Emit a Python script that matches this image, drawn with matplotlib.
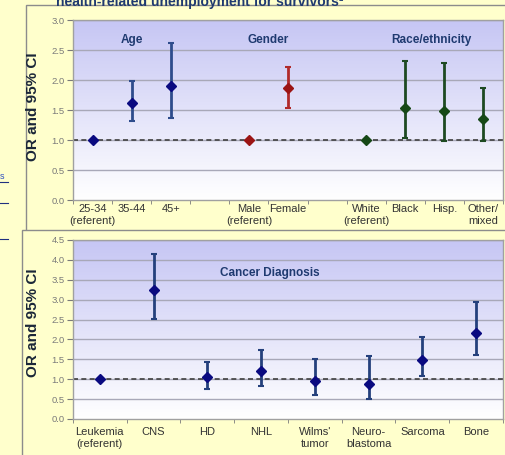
import numpy as np
import matplotlib.pyplot as plt
from matplotlib.patches import Rectangle
from matplotlib.lines import Line2D
from matplotlib.colors import LinearSegmentedColormap

W, H = 506, 455

# top chart: demographic groups (a gap slot between groups)
age_labels = ["25-34\n(referent)", "35-44", "45+"]
age_or = [1.0, 1.62, 1.90]
age_lo = [1.0, 1.32, 1.37]
age_hi = [1.0, 1.98, 2.62]

gender_labels = ["Male\n(referent)", "Female"]
gender_or = [1.0, 1.86]
gender_lo = [1.0, 1.54]
gender_hi = [1.0, 2.22]

race_labels = ["White\n(referent)", "Black", "Hisp.", "Other/\nmixed"]
race_or = [1.0, 1.54, 1.49, 1.35]
race_lo = [1.0, 1.04, 0.99, 0.99]
race_hi = [1.0, 2.32, 2.29, 1.87]

# bottom chart: cancer diagnosis
dx_labels = ["Leukemia\n(referent)", "CNS", "HD", "NHL", "Wilms'\ntumor",
             "Neuro-\nblastoma", "Sarcoma", "Bone"]
dx_or = [1.0, 3.24, 1.06, 1.21, 0.96, 0.89, 1.48, 2.16]
dx_lo = [1.0, 2.52, 0.75, 0.82, 0.61, 0.50, 1.08, 1.60]
dx_hi = [1.0, 4.14, 1.44, 1.73, 1.52, 1.58, 2.07, 2.94]

bg = "#FFFFCC"
frame_col = "#8C8C8C"
grid_col = "#A8A8B8"
tick_col = "#7A7A7A"
title_col = "#1F3A70"

fig = plt.figure(figsize=(W / 100, H / 100), dpi=100)
fig.patch.set_facecolor(bg)
plt.rcParams['font.family'] = ['Liberation Sans', 'DejaVu Sans']


def fig_box(x0, y0, x1, y1):
    return [x0 / W, 1 - y1 / H, (x1 - x0) / W, (y1 - y0) / H]


# slide frames
fig.patches.append(Rectangle((26 / W, 1 - 232 / H), (530 - 26) / W, (232 - 5) / H,
                             transform=fig.transFigure, fc=bg, ec=frame_col, lw=1, zorder=-3))
fig.patches.append(Rectangle((22 / W, -0.1), (530 - 22) / W, 1 - 230 / H + 0.1,
                             transform=fig.transFigure, fc=bg, ec=frame_col, lw=1, zorder=-2))

# leftover slide bits on the left edge
fig.text(0 / W, 1 - 179 / H, "s", color="#3050C0", fontsize=6.5, ha="left", va="baseline")
for yy in [182, 203, 239]:
    fig.lines.append(Line2D([0, 8 / W], [1 - yy / H, 1 - yy / H], transform=fig.transFigure,
                            color="#203080", lw=0.8, zorder=-1))

# slide title, cut off at the top edge as in the screenshot
fig.text(56 / W, 1 - 6 / H, "health-related unemployment for survivors\u00b9", color=title_col,
         fontsize=10, fontweight="bold", ha="left", va="baseline", zorder=5)

grad_cmap = LinearSegmentedColormap.from_list("g", ["#FFFFFF", "#C6C6F4"])


def setup(ax, n, ymax, labels, label_y):
    ax.set_zorder(2)
    ax.set_xlim(-0.5, n - 0.5)
    ax.set_ylim(0, ymax)
    ax.set_facecolor("none")
    ax.imshow(np.linspace(0, 1, 256).reshape(-1, 1), cmap=grad_cmap, aspect="auto",
              extent=(-0.5, n - 0.5, 0, ymax), origin="lower", zorder=0)
    yt = np.arange(0, ymax + 0.01, 0.5)
    ax.set_yticks(yt)
    ax.set_yticklabels(["%.1f" % v for v in yt])
    for v in yt[1:]:
        ax.axhline(v, color=grid_col, lw=1, zorder=1)
    ax.axhline(1.0, color="#404040", lw=1.2, ls=(0, (3, 2)), zorder=2)
    ax.set_xticks(range(n))
    ax.set_xticklabels(labels)
    ax.set_xticks(np.arange(-0.5, n, 1), minor=True)
    ax.tick_params(axis="x", which="major", length=0, labelsize=8, colors="#333333")
    ax.tick_params(axis="x", which="minor", length=3, color=tick_col)
    ax.tick_params(axis="y", length=4, color=tick_col, labelsize=6.8, labelcolor=tick_col, pad=2)
    for s in ax.spines.values():
        s.set_color("#A0A0A0")
        s.set_linewidth(1)
    ax.set_ylabel("OR and 95% CI", fontsize=11, fontweight="bold", color="#1A2638")
    ax.yaxis.set_label_coords(-33 / 430, label_y)


def draw(ax, xs, o, lo, hi, mcol, ecol):
    o = np.array(o)
    yerr = [o - np.array(lo), np.array(hi) - o]
    ax.errorbar(xs, o, yerr=yerr, fmt="D", ms=5.5, mfc=mcol, mec=mcol, ecolor=ecol,
                elinewidth=2, capsize=2, capthick=1.5, zorder=4)


# top chart
ax1 = fig.add_axes(fig_box(73, 20, 503, 200))
top_labels = age_labels + [""] + gender_labels + [""] + race_labels
setup(ax1, len(top_labels), 3.0, top_labels, 0.52)
ax1.tick_params(axis="x", which="major", pad=3)
x_age = np.arange(len(age_labels))
x_gen = np.arange(len(gender_labels)) + len(age_labels) + 1
x_race = np.arange(len(race_labels)) + x_gen[-1] + 2
draw(ax1, x_age, age_or, age_lo, age_hi, "#0A0A80", "#2E4C8C")
draw(ax1, x_gen, gender_or, gender_lo, gender_hi, "#9B1414", "#B02A2A")
draw(ax1, x_race, race_or, race_lo, race_hi, "#164816", "#1E4A22")
for txt, xg in [("Age", x_age[1]), ("Gender", x_gen.mean()), ("Race/ethnicity", 8.68)]:
    ax1.text(xg, 2.67, txt, ha="center", va="center", fontsize=8.5, fontweight="bold",
             color=title_col, zorder=5)

# bottom chart
ax2 = fig.add_axes(fig_box(73, 240, 503, 419))
setup(ax2, len(dx_labels), 4.5, dx_labels, 0.54)
ax2.tick_params(axis="x", which="major", pad=6)
draw(ax2, np.arange(len(dx_labels)), dx_or, dx_lo, dx_hi, "#0A0A80", "#24407C")
ax2.text(3.17, 3.66, "Cancer Diagnosis", ha="center", va="center", fontsize=8.5,
         fontweight="bold", color=title_col, zorder=5)

fig.savefig("out.png", dpi=100, facecolor=bg)
